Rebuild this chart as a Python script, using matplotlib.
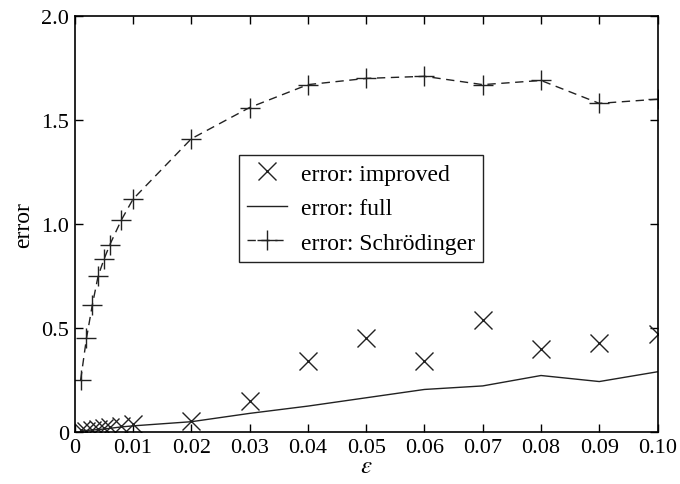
import matplotlib
matplotlib.use('Agg')
import matplotlib.pyplot as plt
import numpy as np

plt.rcParams['font.family'] = ['Liberation Serif', 'DejaVu Serif']
plt.rcParams['mathtext.fontset'] = 'stix'

# Data
eps = [0.001, 0.002, 0.003, 0.004, 0.005, 0.006, 0.008, 0.01,
       0.02, 0.03, 0.04, 0.05, 0.06, 0.07, 0.08, 0.09, 0.10]
err_improved = [0.01, 0.005, 0.01, 0.015, 0.02, 0.025, 0.03, 0.04,
                0.055, 0.15, 0.34, 0.45, 0.34, 0.54, 0.40, 0.43, 0.47]
err_full = [0.005, 0.008, 0.01, 0.012, 0.015, 0.018, 0.025, 0.03,
            0.05, 0.09, 0.125, 0.165, 0.205, 0.222, 0.272, 0.243, 0.29]
err_schroedinger = [0.25, 0.45, 0.61, 0.75, 0.83, 0.90, 1.02, 1.12,
                    1.41, 1.56, 1.67, 1.70, 1.71, 1.67, 1.69, 1.58, 1.60]

xticks = [0, 0.01, 0.02, 0.03, 0.04, 0.05, 0.06, 0.07, 0.08, 0.09, 0.10]
xticklabels = ['0', '0.01', '0.02', '0.03', '0.04', '0.05', '0.06',
               '0.07', '0.08', '0.09', '0.10']
yticks = [0, 0.5, 1.0, 1.5, 2.0]
yticklabels = ['0', '0.5', '1.0', '1.5', '2.0']

fig = plt.figure(figsize=(6.8, 4.85), dpi=100)
ax = fig.add_axes([0.110, 0.107, 0.857, 0.858])

ax.plot(eps, err_improved, linestyle='none', marker='x', markersize=13,
        markeredgewidth=1.0, color='#222222', label='error: improved')
ax.plot(eps, err_full, linestyle='-', linewidth=1.0, color='#222222',
        label='error: full')
ax.plot(eps, err_schroedinger, linestyle=(0, (6, 4)), linewidth=1.0,
        marker='+', markersize=15, markeredgewidth=1.0, color='#222222',
        label='error: Schrödinger')

ax.set_xlim(0, 0.10)
ax.set_ylim(0, 2.0)
ax.set_xticks(xticks)
ax.set_xticklabels(xticklabels)
ax.set_yticks(yticks)
ax.set_yticklabels(yticklabels)
ax.tick_params(direction='in', top=True, right=True, length=6, width=1.0,
               labelsize=16, pad=4)
for s in ax.spines.values():
    s.set_linewidth(1.2)

ax.set_xlabel(r'$\varepsilon$', fontsize=18, labelpad=-1)
ax.set_ylabel('error', fontsize=17, labelpad=5)

leg = ax.legend(loc='lower left', bbox_to_anchor=(0.281, 0.409),
                fontsize=17, handlelength=1.7, handletextpad=0.6,
                borderpad=0.35, labelspacing=0.55, borderaxespad=0,
                fancybox=False, framealpha=1, edgecolor='#222222')
leg.get_frame().set_linewidth(1.0)

fig.savefig('out.png', dpi=100)
